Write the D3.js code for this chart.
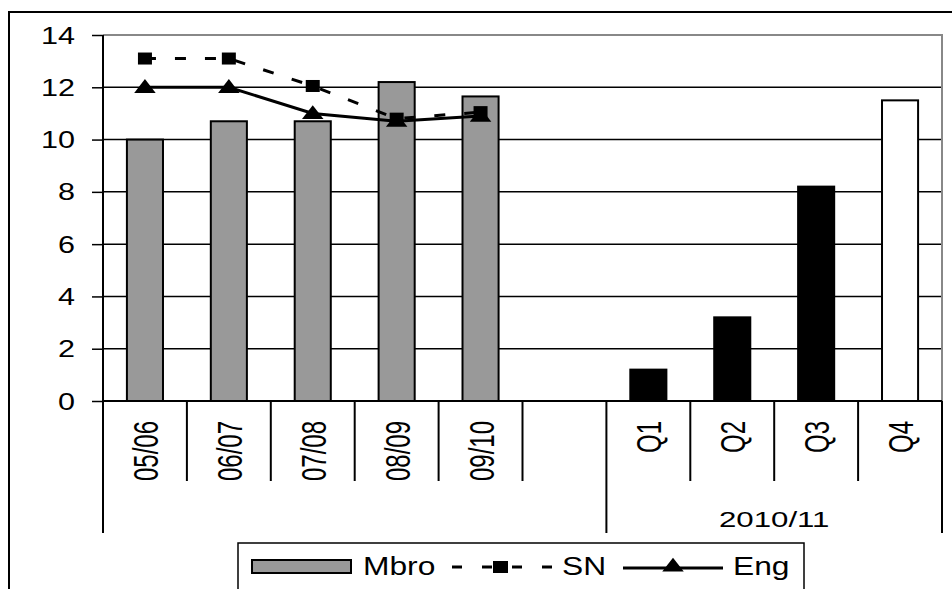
<!DOCTYPE html>
<html>
<head>
<meta charset="utf-8">
<script src="https://cdn.jsdelivr.net/npm/d3@7"></script>
<style>
  body { margin: 0; background: #fff; }
  svg text { font-family: "Liberation Sans", Arial, sans-serif; fill: #000; }
</style>
</head>
<body>
<svg id="chart"></svg>
<script>
// categories along the x axis ('' is the empty gap slot)
var categories = ['05/06', '06/07', '07/08', '08/09', '09/10', '', 'Q1', 'Q2', 'Q3', 'Q4'];
// outer category groups
var groupLabels = ['', '2010/11'];
var groupStarts = [0, 6];
var groupEnds = [5, 9];

// Mbro bars
var mbroValues = [10.0, 10.7, 10.7, 12.2, 11.65, null, 1.2, 3.2, 8.2, 11.5];
// SN and Eng lines
var snCats = ['05/06', '06/07', '07/08', '08/09', '09/10'];
var snValues = [13.1, 13.1, 12.05, 10.8, 11.05];
var engValues = [12.0, 12.0, 11.0, 10.7, 10.9];

var yTicks = [0, 2, 4, 6, 8, 10, 12, 14];
var legendLabels = ['Mbro', 'SN', 'Eng'];

var W = 952, H = 589;
var plotLeft = 103, plotRight = 942, plotTop = 35, zeroY = 401;
var SX = 1.3; // wide, stretched lettering

var svg = d3.select('#chart')
  .attr('width', W)
  .attr('height', H);

// outer chart frame
svg.append('rect')
  .attr('x', 9).attr('y', 12)
  .attr('width', 960).attr('height', 600)
  .attr('fill', '#fff')
  .attr('stroke', '#000')
  .attr('stroke-width', 2);

var xScale = d3.scaleBand()
  .domain(categories.map(function(c, i) { return i; }))
  .range([plotLeft, plotRight])
  .padding(0);

var yScale = d3.scaleLinear()
  .domain([0, 14])
  .range([zeroY, plotTop]);

function cx(i) { return xScale(i) + xScale.bandwidth() / 2; }

// gridlines
svg.append('g')
  .selectAll('line')
  .data(yTicks.filter(function(t) { return t > 0 && t < 14; }))
  .enter().append('line')
  .attr('x1', plotLeft).attr('x2', plotRight)
  .attr('y1', function(d) { return yScale(d); })
  .attr('y2', function(d) { return yScale(d); })
  .attr('stroke', '#000')
  .attr('stroke-width', 1.5);

// plot area top / right border (grey)
svg.append('path')
  .attr('d', 'M' + plotLeft + ',' + yScale(14) + 'H' + plotRight + 'V' + zeroY)
  .attr('fill', 'none')
  .attr('stroke', '#888')
  .attr('stroke-width', 2);

// bars
var barW = xScale.bandwidth() * 0.43;
var barData = mbroValues.map(function(v, i) { return {i: i, cat: categories[i], v: v}; })
  .filter(function(d) { return d.v !== null; });

svg.append('g')
  .selectAll('rect')
  .data(barData)
  .enter().append('rect')
  .attr('x', function(d) { return cx(d.i) - barW / 2; })
  .attr('y', function(d) { return yScale(d.v); })
  .attr('width', barW)
  .attr('height', function(d) { return zeroY - yScale(d.v); })
  .attr('fill', function(d) {
    if (d.cat === 'Q4') return '#fff';
    if (d.cat.charAt(0) === 'Q') return '#000';
    return '#999';
  })
  .attr('stroke', '#000')
  .attr('stroke-width', 2);

// y axis
var yAxis = svg.append('g')
  .attr('transform', 'translate(' + plotLeft + ',0)')
  .call(d3.axisLeft(yScale).tickValues(yTicks).tickSize(11).tickPadding(0).tickFormat(''));
yAxis.select('.domain').remove();
yAxis.selectAll('line').attr('stroke', '#000').attr('stroke-width', 1.5);

svg.append('g')
  .selectAll('text')
  .data(yTicks)
  .enter().append('text')
  .attr('transform', function(d) { return 'translate(75,' + (yScale(d) + 8.5) + ') scale(' + SX + ',1)'; })
  .attr('text-anchor', 'end')
  .style('font-size', '23.5px')
  .text(function(d) { return d; });

// axis lines
svg.append('line')
  .attr('x1', plotLeft).attr('x2', plotLeft)
  .attr('y1', plotTop).attr('y2', 533)
  .attr('stroke', '#000').attr('stroke-width', 2);
svg.append('line')
  .attr('x1', plotLeft).attr('x2', plotRight)
  .attr('y1', zeroY).attr('y2', zeroY)
  .attr('stroke', '#000').attr('stroke-width', 2);

// category separators
var seps = d3.range(1, categories.length + 1);
svg.append('g')
  .selectAll('line')
  .data(seps)
  .enter().append('line')
  .attr('x1', function(d) { return plotLeft + d * xScale.step(); })
  .attr('x2', function(d) { return plotLeft + d * xScale.step(); })
  .attr('y1', zeroY)
  .attr('y2', function(d) {
    return (groupEnds.indexOf(d - 1) >= 0) ? 533 : 481;
  })
  .attr('stroke', '#000')
  .attr('stroke-width', 2);

// rotated category labels
svg.append('g')
  .selectAll('text')
  .data(categories)
  .enter().append('text')
  .attr('transform', function(d, i) { return 'translate(' + cx(i) + ',421) scale(1.5,1) rotate(-90)'; })
  .attr('text-anchor', 'end')
  .attr('dy', '0.36em')
  .style('font-size', '24px')
  .text(function(d) { return d; });

// group labels
svg.append('g')
  .selectAll('text')
  .data(groupLabels)
  .enter().append('text')
  .attr('transform', function(d, i) {
    var gx = (xScale(groupStarts[i]) + xScale(groupEnds[i]) + xScale.bandwidth()) / 2;
    return 'translate(' + gx + ',527) scale(1.42,1)';
  })
  .attr('text-anchor', 'middle')
  .style('font-size', '22px')
  .text(function(d) { return d; });

// lines
var line = d3.line()
  .x(function(d) { return cx(categories.indexOf(d.c)); })
  .y(function(d) { return yScale(d.v); });

var snData = snCats.map(function(c, i) { return {c: c, v: snValues[i]}; });
var engData = snCats.map(function(c, i) { return {c: c, v: engValues[i]}; });

svg.append('path')
  .datum(snData)
  .attr('d', line)
  .attr('fill', 'none')
  .attr('stroke', '#000')
  .attr('stroke-width', 3)
  .attr('stroke-dasharray', '11,19');

svg.append('path')
  .datum(engData)
  .attr('d', line)
  .attr('fill', 'none')
  .attr('stroke', '#000')
  .attr('stroke-width', 3);

var triangle = d3.symbol().type(d3.symbolTriangle).size(110);

svg.append('g')
  .selectAll('rect')
  .data(snData)
  .enter().append('rect')
  .attr('x', function(d) { return line.x()(d) - 7; })
  .attr('y', function(d) { return yScale(d.v) - 6; })
  .attr('width', 14).attr('height', 12)
  .attr('fill', '#000');

svg.append('g')
  .selectAll('path')
  .data(engData)
  .enter().append('path')
  .attr('d', triangle)
  .attr('transform', function(d) { return 'translate(' + line.x()(d) + ',' + (yScale(d.v) + 1) + ') scale(1.35,1)'; })
  .attr('fill', '#000');

// legend
var legend = svg.append('g');
legend.append('rect')
  .attr('x', 238).attr('y', 543)
  .attr('width', 566).attr('height', 70)
  .attr('fill', '#fff')
  .attr('stroke', '#000')
  .attr('stroke-width', 1.5);

legend.append('rect')
  .attr('x', 252).attr('y', 560)
  .attr('width', 99).attr('height', 13)
  .attr('fill', '#999')
  .attr('stroke', '#000')
  .attr('stroke-width', 2);

legend.append('line')
  .attr('x1', 452).attr('x2', 560)
  .attr('y1', 567).attr('y2', 567)
  .attr('stroke', '#000').attr('stroke-width', 3)
  .attr('stroke-dasharray', '10,20');
legend.append('rect')
  .attr('x', 493).attr('y', 561)
  .attr('width', 15).attr('height', 12)
  .attr('fill', '#000');

legend.append('line')
  .attr('x1', 623).attr('x2', 723)
  .attr('y1', 568).attr('y2', 568)
  .attr('stroke', '#000').attr('stroke-width', 3);
legend.append('path')
  .attr('d', triangle)
  .attr('transform', 'translate(673,567) scale(1.35,1)')
  .attr('fill', '#000');

var legendX = [363, 562, 733];
legend.selectAll('text')
  .data(legendLabels)
  .enter().append('text')
  .attr('transform', function(d, i) { return 'translate(' + legendX[i] + ',575) scale(1.27,1)'; })
  .style('font-size', '25px')
  .text(function(d) { return d; });
</script>
</body>
</html>
